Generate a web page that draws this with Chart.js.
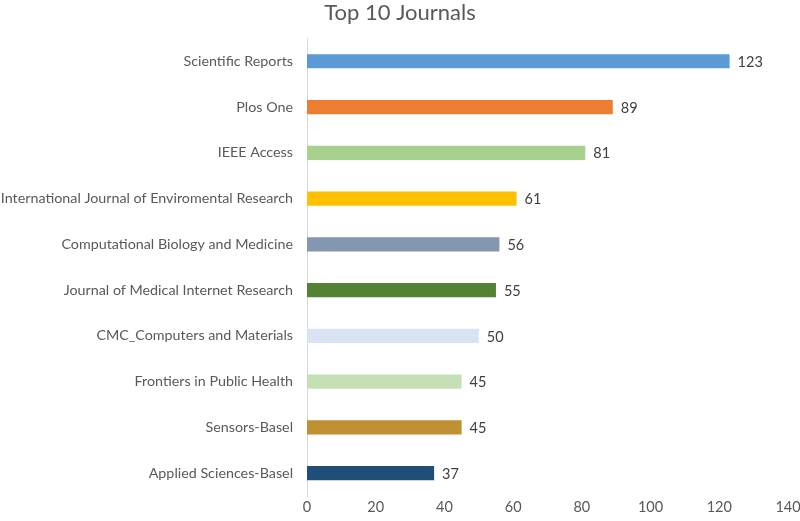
<!DOCTYPE html>
<html>
<head>
<meta charset="utf-8">
<script src="https://cdn.jsdelivr.net/npm/chart.js@4"></script>
<style>
  html, body { margin: 0; padding: 0; background: #fff; }
  #wrap { width: 800px; height: 521px; }
</style>
</head>
<body>
<div id="wrap"><canvas id="chart"></canvas></div>
<script>
const journals = [
    'Scientific Reports',
    'Plos One',
    'IEEE Access',
    'International Journal of Enviromental Research',
    'Computational Biology and Medicine',
    'Journal of Medical Internet Research',
    'CMC_Computers and Materials',
    'Frontiers in Public Health',
    'Sensors-Basel',
    'Applied Sciences-Basel'
];
const papers = [123, 89, 81, 61, 56, 55, 50, 45, 45, 37];
const barColors = [
    '#5B9BD5', '#ED7D31', '#A9D18E', '#FFC000', '#8497B0',
    '#548235', '#DAE3F3', '#C5E0B4', '#BF9133', '#1F4E79'
];
const xTicks = [0, 20, 40, 60, 80, 100, 120, 140];

// value labels at the end of each bar
const valueLabels = {
    id: 'valueLabels',
    afterDatasetsDraw(chart) {
        const ctx = chart.ctx;
        const meta = chart.getDatasetMeta(0);
        ctx.save();
        ctx.font = '14.5px Lato, "Open Sans", sans-serif';
        ctx.fillStyle = '#404040';
        ctx.textAlign = 'left';
        ctx.textBaseline = 'middle';
        meta.data.forEach((bar, i) => {
            ctx.fillText(papers[i], bar.x + 8, bar.y + 1);
        });
        ctx.restore();
    }
};

const ctx = document.getElementById('chart').getContext('2d');
new Chart(ctx, {
    type: 'bar',
    data: {
        labels: journals,
        datasets: [{
            data: papers,
            backgroundColor: barColors,
            borderWidth: 0,
            barPercentage: 0.62,
            categoryPercentage: 0.5
        }]
    },
    options: {
        indexAxis: 'y',
        responsive: true,
        maintainAspectRatio: false,
        animation: false,
        layout: { padding: { top: 0, right: 0, bottom: 0, left: 0 } },
        plugins: {
            legend: { display: false },
            tooltip: { enabled: false },
            title: {
                display: true,
                text: 'Top 10 Journals',
                color: '#595959',
                font: { family: 'Lato, "Open Sans", sans-serif', size: 22, weight: 'normal' },
                padding: { top: 0, bottom: 12 }
            }
        },
        scales: {
            x: {
                min: 0,
                max: 140,
                afterBuildTicks: (scale) => { scale.ticks = xTicks.map(v => ({ value: v })); },
                afterFit: (scale) => { scale.height = 25; scale.paddingRight = 12; },
                grid: { display: false, drawTicks: false },
                border: { display: false },
                ticks: {
                    color: '#595959',
                    font: { family: 'Lato, "Open Sans", sans-serif', size: 14.5 },
                    padding: 3
                }
            },
            y: {
                afterFit: (scale) => { scale.width = 307; },
                grid: { display: false, drawTicks: false },
                border: { display: true, color: '#D9D9D9', width: 1 },
                ticks: {
                    color: '#595959',
                    font: { family: 'Lato, "Open Sans", sans-serif', size: 14.3 },
                    padding: 14
                }
            }
        }
    },
    plugins: [valueLabels]
});
</script>
</body>
</html>
